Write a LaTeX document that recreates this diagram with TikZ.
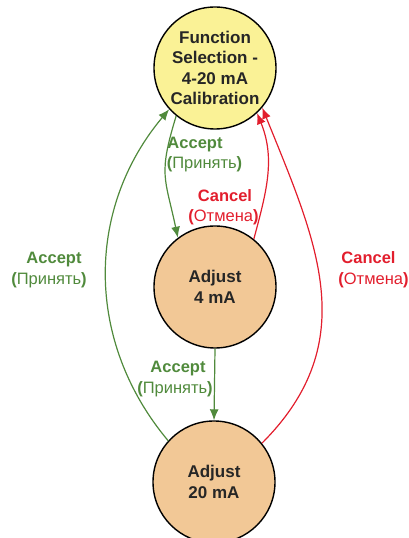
\documentclass[tikz,border=0pt]{standalone}
\usepackage{fontspec}
\setmainfont{Liberation Sans}
\usetikzlibrary{arrows.meta}
\definecolor{okgreen}{RGB}{80,138,60}
\definecolor{cancelred}{RGB}{226,30,45}
\definecolor{selfill}{RGB}{250,242,150}
\definecolor{adjfill}{RGB}{242,200,150}
\definecolor{inktext}{RGB}{38,38,38}
\tikzset{
  state/.style={circle, draw=black, line width=1.4pt, minimum size=122pt, inner sep=0pt,
    align=center, text=inktext, font=\fontsize{17}{20.5}\selectfont\bfseries},
  selstate/.style={state, fill=selfill},
  adjstate/.style={state, fill=adjfill},
  accepttip/.style={-{Latex[length=11pt,width=9pt]}, draw=okgreen, line width=1.2pt},
  canceltip/.style={-{Latex[length=11pt,width=9pt]}, draw=cancelred, line width=1.2pt},
  lbl/.style={inner sep=0pt, anchor=base, font=\fontsize{16.5}{19}\selectfont},
  acceptlbl/.style={lbl, text=okgreen},
  cancellbl/.style={lbl, text=cancelred}
}
\newcommand{\acc}{\textbf{Accept}}
\newcommand{\accru}{\textbf{(}Принять\textbf{)}}
\newcommand{\cnc}{\textbf{Cancel}}
\newcommand{\cncru}{\textbf{(}Отмена\textbf{)}}
\begin{document}
\begin{tikzpicture}[x=1pt,y=1pt]
  \useasboundingbox (0,0) rectangle (409,538);
  \begin{scope}
    \clip (0,0) rectangle (409,538);
    \node[selstate] (sel) at (215,470) {Function\\Selection -\\4-20 mA\\Calibration};
    \node[adjstate] (a4) at (215,251) {Adjust\\4 mA};
    \node[adjstate] (a20) at (214,56) {Adjust\\20 mA};
  \end{scope}

  % transitions
  \draw[accepttip] (sel.231) to[out=253, in=102, looseness=1.3] (a4.127);
  \draw[canceltip] (a4.51) to[out=75, in=292] (sel.313);
  \draw[accepttip] (a4.south) -- (a20.north);
  \draw[accepttip] (a20.138) to[out=130, in=230] (sel.222);
  \draw[canceltip] (a20.39) to[out=45, in=292, looseness=1.1] (sel.320);

  % labels
  \node[acceptlbl] (l1a) at (195,389) {\acc};
  \node[acceptlbl] (l1b) at (204.5,369) {\accru};
  \node[cancellbl] (l2a) at (225,336) {\cnc};
  \node[cancellbl] (l2b) at (223.5,316) {\cncru};
  \node[acceptlbl] (l3a) at (54,274) {\acc};
  \node[acceptlbl] (l3b) at (49,253) {\accru};
  \node[cancellbl] (l4a) at (368.5,274) {\cnc};
  \node[cancellbl] (l4b) at (373.5,253) {\cncru};
  \node[acceptlbl] (l5a) at (178,165) {\acc};
  \node[acceptlbl] (l5b) at (175,144) {\accru};
\end{tikzpicture}
\end{document}
